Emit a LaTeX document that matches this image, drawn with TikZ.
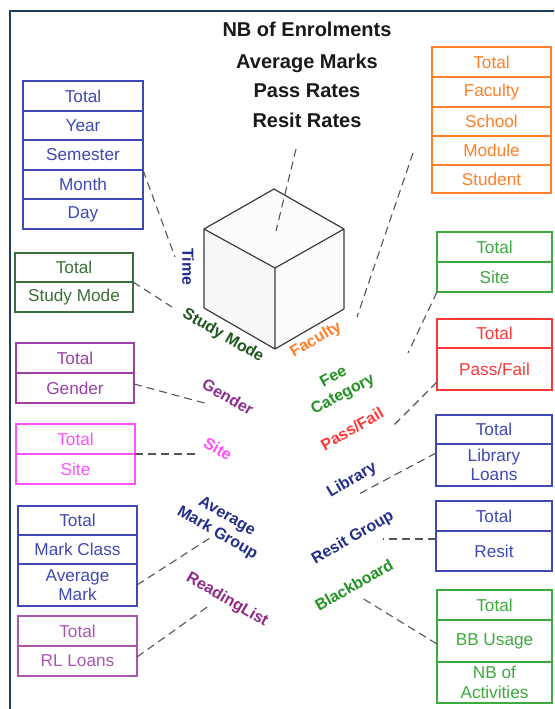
\documentclass[tikz,border=0pt]{standalone}
\usepackage{fontspec}
\setmainfont{Liberation Sans}
\definecolor{frameblue}{RGB}{31,63,96}
\definecolor{cblue}{RGB}{63,72,180}
\definecolor{lblue}{RGB}{35,45,140}
\definecolor{corange}{RGB}{255,127,39}
\definecolor{cdkgreen}{RGB}{60,110,60}
\definecolor{ldkgreen}{RGB}{30,85,30}
\definecolor{cgreen}{RGB}{60,170,60}
\definecolor{lgreen}{RGB}{35,145,35}
\definecolor{cred}{RGB}{255,55,55}
\definecolor{cpurple}{RGB}{155,65,165}
\definecolor{lpurple}{RGB}{140,45,145}
\definecolor{cmagenta}{RGB}{255,80,255}
\definecolor{crl}{RGB}{170,85,175}
\definecolor{lrl}{RGB}{145,40,135}
\definecolor{dashgray}{RGB}{85,85,85}
\definecolor{cubeline}{RGB}{60,60,60}
\begin{document}
\begin{tikzpicture}[x=1pt,y=-1pt,
  cell/.style={draw=#1, text=#1, line width=1.3pt, inner sep=0pt, outer sep=0pt,
    align=center, font=\fontsize{17.2}{19.5}\selectfont},
  lab/.style={text=#1, font=\bfseries\fontsize{16}{19}\selectfont, align=center, inner sep=0pt},
  ttl/.style={font=\bfseries\fontsize{20}{23}\selectfont, text=black!90, anchor=base, inner sep=0pt},
  dashln/.style={draw=dashgray, line width=1.1pt, dash pattern=on 8pt off 5pt},
  cubeedge/.style={draw=cubeline, line width=1.2pt, line join=round}]
\useasboundingbox (0,0) rectangle (554,709);

% page frame
\draw[frameblue, line width=2.4pt] (10,709) -- (10,11) -- (554,11);

% measures
\node[ttl] (m1) at (307,37) {NB of Enrolments};
\node[ttl] (m2) at (307,68) {Average Marks};
\node[ttl] (m3) at (307,97) {Pass Rates};
\node[ttl] (m4) at (307,127) {Resit Rates};

% cube
\coordinate (cT) at (274,189);
\coordinate (cL) at (204,229);
\coordinate (cR) at (344,229);
\coordinate (cC) at (275,268);
\coordinate (cLB) at (204,308);
\coordinate (cRB) at (344,309);
\coordinate (cB) at (275,349);
\fill[gray!6] (cL) -- (cC) -- (cB) -- (cLB) -- cycle;
\fill[gray!3] (cC) -- (cR) -- (cRB) -- (cB) -- cycle;
\fill[gray!2] (cT) -- (cR) -- (cC) -- (cL) -- cycle;
\draw[cubeedge] (cT) -- (cR) -- (cRB) -- (cB) -- (cLB) -- (cL) -- cycle
  (cL) -- (cC) -- (cR) (cC) -- (cB);

% Time dimension
\node[cell=cblue, minimum width=120pt, minimum height=30pt] (tTotal) at (83,96) {Total};
\node[cell=cblue, minimum width=120pt, minimum height=29pt] (tYear) at (83,125.5) {Year};
\node[cell=cblue, minimum width=120pt, minimum height=30pt] (tSem) at (83,155) {Semester};
\node[cell=cblue, minimum width=120pt, minimum height=29pt] (tMonth) at (83,184.5) {Month};
\node[cell=cblue, minimum width=120pt, minimum height=30pt] (tDay) at (83,214) {Day};

% Study mode dimension
\node[cell=cdkgreen, minimum width=118pt, minimum height=29pt] (sTotal) at (74,267.5) {Total};
\node[cell=cdkgreen, minimum width=118pt, minimum height=30pt] (sMode) at (74,297) {Study Mode};

% Gender dimension
\node[cell=cpurple, minimum width=118pt, minimum height=30pt] (gTotal) at (75,358) {Total};
\node[cell=cpurple, minimum width=118pt, minimum height=30pt] (gGender) at (75,388) {Gender};

% Site dimension (left)
\node[cell=cmagenta, minimum width=119pt, minimum height=30pt] (siTotal) at (75.5,439) {Total};
\node[cell=cmagenta, minimum width=119pt, minimum height=30pt] (siSite) at (75.5,469) {Site};

% Average mark dimension
\node[cell=cblue, minimum width=119pt, minimum height=29pt] (aTotal) at (77.5,520.5) {Total};
\node[cell=cblue, minimum width=119pt, minimum height=29pt] (aClass) at (77.5,549.5) {Mark Class};
\node[cell=cblue, minimum width=119pt, minimum height=42pt] (aMark) at (77.5,585) {Average\\Mark};

% Reading list dimension
\node[cell=crl, minimum width=119pt, minimum height=30pt] (rlTotal) at (77.5,631) {Total};
\node[cell=crl, minimum width=119pt, minimum height=30pt] (rlLoans) at (77.5,661) {RL Loans};

% Faculty dimension
\node[cell=corange, minimum width=119pt, minimum height=30pt] (fTotal) at (491.5,62) {Total};
\node[cell=corange, minimum width=119pt, minimum height=30pt] (fFac) at (491.5,92) {Faculty};
\node[cell=corange, minimum width=119pt, minimum height=29pt] (fSchool) at (491.5,121.5) {School};
\node[cell=corange, minimum width=119pt, minimum height=29pt] (fModule) at (491.5,150.5) {Module};
\node[cell=corange, minimum width=119pt, minimum height=28pt] (fStudent) at (491.5,179) {Student};

% Fee category dimension
\node[cell=cgreen, minimum width=115pt, minimum height=30pt] (feTotal) at (494.5,247) {Total};
\node[cell=cgreen, minimum width=115pt, minimum height=30pt] (feSite) at (494.5,277) {Site};

% Pass/Fail dimension
\node[cell=cred, minimum width=115pt, minimum height=29pt] (pTotal) at (494.5,333.5) {Total};
\node[cell=cred, minimum width=115pt, minimum height=42pt] (pPF) at (494.5,369) {Pass/Fail};

% Library dimension
\node[cell=cblue, minimum width=116pt, minimum height=29pt] (lTotal) at (494,429.5) {Total};
\node[cell=cblue, minimum width=116pt, minimum height=42pt] (lLoans) at (494,465) {Library\\Loans};

% Resit dimension
\node[cell=cblue, minimum width=116pt, minimum height=30pt] (rTotal) at (494,516) {Total};
\node[cell=cblue, minimum width=116pt, minimum height=40pt] (rResit) at (494,551) {Resit};

% Blackboard dimension
\node[cell=cgreen, minimum width=115pt, minimum height=30pt] (bTotal) at (494.5,605) {Total};
\node[cell=cgreen, minimum width=115pt, minimum height=42pt] (bUsage) at (494.5,641) {BB Usage};
\node[cell=cgreen, minimum width=115pt, minimum height=41pt] (bAct) at (494.5,682.5) {NB of\\Activities};

% axis labels
\node[lab=lblue, rotate=-90] (xTime) at (188,267) {Time};
\node[lab=ldkgreen, rotate=-30] (xStudy) at (223,336) {Study Mode};
\node[lab=corange, rotate=30] (xFac) at (316,340) {Faculty};
\node[lab=lgreen, rotate=28, font=\bfseries\fontsize{16}{20}\selectfont] (xFee) at (338.5,386) {Fee\\Category};
\node[lab=cred, rotate=30] (xPass) at (352,429) {Pass/Fail};
\node[lab=lblue, rotate=30] (xLib) at (352,480) {Library};
\node[lab=lblue, rotate=30] (xResit) at (353,538) {Resit Group};
\node[lab=lgreen, rotate=30] (xBB) at (354,585) {Blackboard};
\node[lab=lpurple, rotate=-30] (xGender) at (228,397) {Gender};
\node[lab=cmagenta, rotate=-30] (xSite) at (218,449) {Site};
\node[lab=lblue, rotate=-30, font=\bfseries\fontsize{16}{19}\selectfont] (xAvg) at (222,525) {Average\\Mark Group};
\node[lab=lrl, rotate=-30] (xRL) at (227,600) {ReadingList};

% free ends of the dashed links
\coordinate (eMeas1) at (296,149);
\coordinate (eMeas2) at (276,231);
\coordinate (eFac1) at (413,153);
\coordinate (eFac2) at (357,317);
\coordinate (eTime) at (175,257);
\coordinate (eStudy) at (172,307);
\coordinate (eGender) at (208,404);
\coordinate (eSite) at (197,454);
\coordinate (eAvg) at (213,536);
\coordinate (eRL) at (210,605);
\coordinate (eFee) at (408,353);
\coordinate (ePass) at (393,426);
\coordinate (eLib) at (357,495);
\coordinate (eResit) at (383,539);
\coordinate (eBB) at (362,598);

% dashed links
\draw[dashln] (eMeas1) -- (eMeas2);
\draw[dashln] (eFac1) -- (eFac2);
\draw[dashln] (tSem.south east) -- (eTime);
\draw[dashln] (sMode.north east) -- (eStudy);
\draw[dashln] ([yshift=4pt]gGender.east) -- (eGender);
\draw[dashln] (siSite.north east) -- (eSite);
\draw[dashln] (aMark.east) -- (eAvg);
\draw[dashln] ([yshift=4pt]rlLoans.east) -- (eRL);
\draw[dashln] (feSite.south west) -- (eFee);
\draw[dashln] ([yshift=-13pt]pPF.west) -- (ePass);
\draw[dashln] ([yshift=12pt]lLoans.west) -- (eLib);
\draw[dashln] ([yshift=12pt]rResit.west) -- (eResit);
\draw[dashln] ([yshift=-3pt]bUsage.west) -- (eBB);
\end{tikzpicture}
\end{document}
